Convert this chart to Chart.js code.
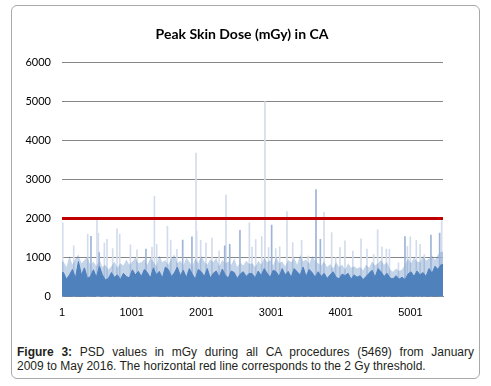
<!DOCTYPE html>
<html>
<head>
<meta charset="utf-8">
<script src="https://cdn.jsdelivr.net/npm/chart.js@4.4.0/dist/chart.umd.min.js"></script>
<style>
  html, body { margin: 0; padding: 0; background: #fff; }
  #frame { position: absolute; left: 11px; top: 5px; width: 467px; height: 372px; border: 1px solid #a9a9a9; border-radius: 6px; }
  #c { position: absolute; left: 11px; top: 6px; }
  .cap { position: absolute; left: 17px; width: 457px; font-family: 'Liberation Sans', Arial, sans-serif; font-size: 12px; line-height: 14px; color: #231f20; white-space: nowrap; }
  #cap1 { top: 345px; text-align: justify; text-align-last: justify; white-space: normal; }
  #cap2 { top: 359px; }
</style>
</head>
<body>
<div id="frame"></div>
<canvas id="c" width="469" height="324"></canvas>
<div class="cap" id="cap1"><b>Figure 3:</b> PSD values in mGy during all CA procedures (5469) from January</div>
<div class="cap" id="cap2">2009 to May 2016. The horizontal red line corresponds to the 2 Gy threshold.</div>
<script>
// ---- data ----
const chartTitle = 'Peak Skin Dose (mGy) in CA';
const totalProcedures = 5469;
const xTickValues = [1, 1001, 2001, 3001, 4001, 5001];
const thresholdMGy = 2000;

// typical (dense, dark) PSD level, one value per block of 43 consecutive procedures
const typicalLevel = [
  620, 450, 560, 700, 480, 900, 560, 740, 470, 520, 690, 500, 780,
  560, 430, 470, 620, 500, 560, 440, 600, 520, 480, 690, 560, 650,
  520, 700, 620, 480, 740, 560, 650, 480, 760, 700, 520, 610, 760, 540, 680, 490, 720,
  580, 450, 700, 640, 520, 720, 480, 600, 660, 500, 710, 560, 480, 660, 620, 470, 580, 640, 520, 600,
  590, 480, 660, 540, 720, 600, 500, 680, 640, 520, 720, 560, 650,
  500, 720, 640, 560, 760, 520, 700, 620, 500, 640,
  520, 600, 470, 560, 640, 500, 460, 580, 540, 600, 450, 560, 500,
  540, 440, 520, 600, 680, 500, 720, 640, 520, 600, 480, 460, 540, 450,
  500, 440, 580, 640, 520, 660, 560, 620, 520, 720, 600, 780, 700, 820
];
// upper (sparse, light) PSD level within each block of 43 procedures
const upperLevel = [
  900, 760, 1050, 820, 980, 1080, 860, 940, 1020, 800, 900, 780, 950,
  760, 820, 700, 780, 900, 740, 860, 800, 950, 820, 900, 1000, 860,
  880, 960, 820, 1000, 900, 780, 1060, 880, 940, 820, 980, 1080, 860, 920, 800, 1000, 900,
  780, 980, 860, 1050, 900, 820, 960, 880, 1000, 780, 940, 860, 900, 820, 980, 760, 880, 800, 920, 840,
  860, 760, 920, 820, 1000, 880, 940, 800, 1020, 860, 900, 780, 940,
  880, 1000, 820, 1080, 900, 960, 840, 1040, 920, 860,
  800, 900, 760, 840, 720, 880, 760, 820, 700, 860, 740, 780, 720,
  760, 680, 820, 740, 900, 800, 860, 940, 820, 880, 700, 640, 720, 660,
  700, 820, 980, 860, 1000, 900, 880, 1040, 920, 980, 1060, 940, 1080, 1150
];
const blockSize = 43;

// isolated high-dose procedures: procedure number and PSD (mGy)
const peakProcedure = [11, 169, 370, 503, 523, 609, 647, 728, 790, 829, 983, 1077, 1293, 1327, 1360, 1514, 1561, 1650, 1924, 1934, 1991, 2068, 2153, 2255, 2355, 2690, 2728, 2781, 2867, 2914, 2966, 3068, 3125, 3230, 3312, 3440, 3536, 3761, 3871, 3928, 3990, 4062, 4175, 4292, 4378, 4473, 4531, 4593, 4656, 4700, 4830, 4958, 5000, 5086, 5140, 5200, 5450];
const peakPSD =       [1890, 1300, 1600, 2000, 1620, 1370, 1470, 1230, 1735, 1600, 1330, 1200, 1270, 2570, 1340, 1800, 1450, 1210, 3670, 1680, 1440, 1380, 1500, 1170, 2600, 1890, 1270, 1460, 1540, 4990, 1255, 1230, 1280, 2180, 1385, 1440, 1040, 2160, 1640, 1000, 1255, 1430, 1170, 1480, 1220, 1080, 1720, 1270, 1220, 1210, 870, 1290, 1530, 1444, 1340, 1080, 1950];
// high-dose procedures that stand out in a darker tone
const strongProcedure = [417, 535, 1206, 1733, 1866, 2336, 2408, 2555, 3010, 3646, 3709, 4923, 5296, 5421];
const strongPSD =       [1545, 1130, 1220, 1450, 1530, 1300, 1340, 1700, 1830, 2740, 1470, 1540, 1580, 1630];

// ---- build ----
function blockSeries(levels) {
  const pts = [{ x: 1, y: levels[0] }];
  levels.forEach((v, i) => pts.push({ x: 1 + blockSize * i + Math.floor(blockSize / 2), y: v }));
  pts.push({ x: totalProcedures, y: levels[levels.length - 1] });
  return pts;
}
const pairs = (xs, ys) => xs.map((x, i) => ({ x: x, y: ys[i] }));

const BLUE = '#4f81bd';

new Chart(document.getElementById('c'), {
  type: 'line',
  data: {
    datasets: [
      { type: 'line', label: 'threshold', data: [{ x: 1, y: thresholdMGy }, { x: totalProcedures, y: thresholdMGy }],
        borderColor: '#c00000', borderWidth: 3, pointRadius: 0, fill: false, order: 0 },
      { type: 'line', label: 'typical', data: blockSeries(typicalLevel),
        borderColor: BLUE, borderWidth: 1, backgroundColor: BLUE, pointRadius: 0, tension: 0, fill: 'origin', order: 1 },
      { type: 'bar', label: 'strong', data: pairs(strongProcedure, strongPSD),
        backgroundColor: '#9db4d8', barThickness: 1, grouped: false, order: 2 },
      { type: 'line', label: 'upper', data: blockSeries(upperLevel),
        borderColor: 'rgba(0,0,0,0)', borderWidth: 0, backgroundColor: 'rgba(79,129,189,0.33)', pointRadius: 0, tension: 0, fill: 'origin', order: 3 },
      { type: 'bar', label: 'peaks', data: pairs(peakProcedure, peakPSD),
        backgroundColor: '#d3dcec', barThickness: 1, grouped: false, order: 4 }
    ]
  },
  options: {
    responsive: false,
    animation: false,
    events: [],
    layout: { padding: { left: 0, right: 7, top: 0, bottom: 0 } },
    plugins: {
      legend: { display: false },
      tooltip: { enabled: false },
      title: { display: true, text: chartTitle, color: '#000',
        font: { family: 'Lato', size: 14, weight: 'bold' }, padding: { top: 20.4, bottom: 18.8 } }
    },
    scales: {
      x: {
        type: 'linear', min: 1, max: totalProcedures, offset: false,
        grid: { display: false, drawTicks: false },
        border: { display: true, color: '#868686', width: 1 },
        ticks: { autoSkip: false, maxRotation: 0, padding: 10, color: '#000',
          font: { family: 'Liberation Sans', size: 11 }, callback: v => String(v) },
        afterBuildTicks: s => { s.ticks = xTickValues.map(v => ({ value: v })); }
      },
      y: {
        min: 0, max: 6000,
        grid: { color: '#868686', lineWidth: 1, drawTicks: false },
        border: { display: false },
        ticks: { stepSize: 1000, padding: 11, color: '#000', font: { family: 'Lato', size: 11 }, callback: v => String(v) },
        afterFit: s => { s.width = 51; }
      },
      spacer: {
        type: 'linear', position: 'right', display: true,
        grid: { display: false, drawTicks: false }, border: { display: false },
        ticks: { display: false },
        afterFit: s => { s.width = 30; }
      }
    }
  }
});
</script>
</body>
</html>
